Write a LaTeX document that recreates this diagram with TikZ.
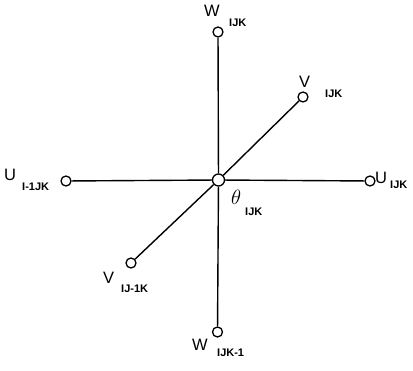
\documentclass[tikz,border=0pt]{standalone}
\usepackage{fontspec}
\setsansfont{Liberation Sans}
\begin{document}
\begin{tikzpicture}[x=1pt,y=-1pt,
  ring/.style={circle,draw,fill=white,line width=1.3pt,inner sep=0pt,minimum size=10pt},
  hub/.style={ring,minimum size=12pt},
  link/.style={line width=1.4pt},
  mainlbl/.style={anchor=base west,inner sep=0pt,font=\sffamily\fontsize{16.5}{16.5}\selectfont},
  sublbl/.style={anchor=base west,inner sep=0pt,font=\sffamily\bfseries\fontsize{11}{11}\selectfont}]
\useasboundingbox (0,0) rectangle (413,371);
% nodes
\node[hub] (c) at (218.5,180) {};
\node[ring] (wt) at (218,32) {};
\node[ring] (wb) at (217.5,332) {};
\node[ring] (ul) at (66,181) {};
\node[ring] (ur) at (370,181) {};
\node[ring] (vt) at (303,97) {};
\node[ring] (vb) at (131,263) {};
% connectors
\draw[link] (wt) -- (c) -- (wb);
\draw[link] (ul) -- (c) -- (ur);
\draw[link] (vb) -- (c) -- (vt);
% labels
\node[mainlbl] (wtm) at (204,17) {W};
\node[sublbl] (wts) at (229,27) {IJK};
\node[mainlbl] (vtm) at (299,88) {V};
\node[sublbl] (vts) at (325,98) {IJK};
\node[mainlbl] (ulm) at (4,181) {U};
\node[sublbl] (uls) at (22,191) {I-1JK};
\node[mainlbl] (urm) at (375,184) {U};
\node[sublbl] (urs) at (390,189) {IJK};
\node[anchor=base west,inner sep=0pt,font=\fontsize{20}{20}\selectfont] (th) at (231,205) {$\theta$};
\node[sublbl] (ths) at (245,216) {IJK};
\node[mainlbl] (vbm) at (103,284) {V};
\node[sublbl] (vbs) at (121,293) {IJ-1K};
\node[mainlbl] (wbm) at (192,351) {W};
\node[sublbl] (wbs) at (217,357) {IJK-1};
\end{tikzpicture}
\end{document}
